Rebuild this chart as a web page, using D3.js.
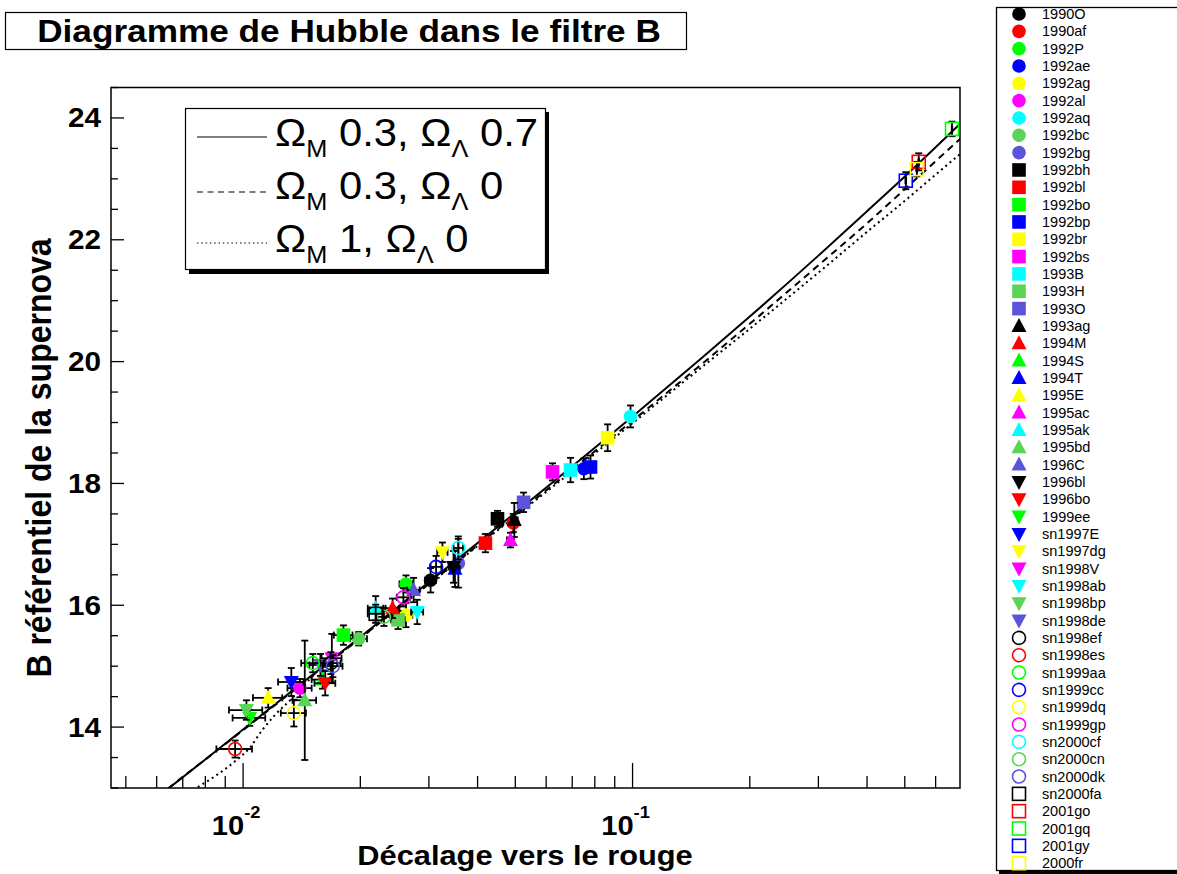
<!DOCTYPE html>
<html><head><meta charset="utf-8">
<script src="https://cdn.jsdelivr.net/npm/d3@7"></script>
<style>
body{margin:0;background:#fff}
svg{display:block}
text{font-family:"Liberation Sans",Arial,Helvetica,sans-serif}
</style>
</head><body>
<svg id="c" width="1177" height="874"></svg>
<script>
// ---------------- DATA ----------------
const names = ["1990O","1990af","1992P","1992ae","1992ag","1992al","1992aq","1992bc","1992bg",
  "1992bh","1992bl","1992bo","1992bp","1992br","1992bs","1993B","1993H","1993O",
  "1993ag","1994M","1994S","1994T","1995E","1995ac","1995ak","1995bd","1996C",
  "1996bl","1996bo","1999ee","sn1997E","sn1997dg","sn1998V","sn1998ab","sn1998bp","sn1998de",
  "sn1998ef","sn1998es","sn1999aa","sn1999cc","sn1999dq","sn1999gp","sn2000cf","sn2000cn","sn2000dk",
  "sn2000fa","2001go","2001gq","2001gy","2000fr"];
const redshift = [0.0303,0.0494,0.0262,0.0750,0.0262,0.0140,0.0988,0.0198,0.0357,
  0.0450,0.0419,0.0181,0.0780,0.0863,0.0623,0.0693,0.0250,0.0525,
  0.0497,0.0242,0.0160,0.0350,0.0116,0.0486,0.0219,0.0144,0.0274,
  0.0347,0.01625,0.0104,0.0133,0.0325,0.0169,0.0280,0.0102,0.0158,
  0.0168,0.00954,0.0151,0.0313,0.0135,0.0258,0.0357,0.0230,0.0170,
  0.0219,0.543,0.661,0.503,0.537];
const magB = [16.41,17.35,16.35,18.24,15.84,14.64,19.10,15.45,16.69,
  17.42,17.02,15.51,18.27,18.75,18.19,18.22,15.76,17.69,
  17.40,15.95,14.78,16.60,14.48,17.07,15.95,14.44,16.25,
  16.63,14.72,14.15,14.74,16.87,15.13,15.89,14.28,15.02,
  15.05,13.64,15.05,16.63,14.23,16.13,16.94,15.81,15.00,
  15.86,23.28,23.82,22.97,23.16];
const errB = [0.20,0.15,0.14,0.17,0.20,0.15,0.18,0.11,0.40,
  0.13,0.15,0.16,0.19,0.22,0.14,0.20,0.15,0.16,
  0.28,0.16,0.15,0.30,0.16,0.12,0.20,0.98,0.20,
  0.26,0.20,0.13,0.23,0.16,0.40,0.20,0.16,0.18,
  0.18,0.14,0.15,0.18,0.22,0.15,0.19,0.15,0.18,
  0.15,0.14,0.12,0.14,0.12];
const errZ = [0.001]; // same redshift uncertainty for all supernovae

// model curves (Hubble diagram predictions)
const modelZ   = [0.0046,0.005,0.01,0.02,0.05,0.1,0.15,0.2,0.3,0.4,0.5,0.6,0.7];
const modelL07 = [12.26,12.44,13.96,15.48,17.52,19.10,20.05,20.74,21.74,22.47,23.04,23.52,23.93];
const modelL0  = [12.25,12.44,13.95,15.46,17.48,19.03,19.95,20.62,21.58,22.27,22.83,23.29,23.68];
const dottedZ  = [0.00744,0.0085,0.0095,0.0104,0.0112,0.012,0.0135,0.015,0.02,0.05,0.1,0.15,0.2,0.3,0.4,0.5,0.6,0.7];
const modelM1  = [12.97,13.20,13.43,13.66,13.95,14.18,14.50,14.82,15.46,17.46,18.99,19.90,20.54,21.46,22.13,22.64,23.07,23.43];

const xTickValues = [0.01, 0.1];
const xTickExponents = ["-2", "-1"];
const yTickValues = [14,16,18,20,22,24];
const yTickLabels = ["14","16","18","20","22","24"];

const palette = ["#000000","#ff0000","#00ff00","#0000ff","#ffff00","#ff00ff","#00ffff","#59d454","#5954d9"];
const shapes = ["circle","square","up","down","ocircle","osquare"];

// ---------------- DRAW ----------------
const svg = d3.select("#c");
const L = 111, R = 960, T = 87.5, B = 788;
const x = d3.scaleLog().domain([0.00458, 0.693]).range([L, R]);
const y = d3.scaleLinear().domain([13, 24.5]).range([B, T]);
const SX = 1.1; // horizontal stretch of the original canvas text

svg.append("defs").append("clipPath").attr("id","clip")
  .append("rect").attr("x",L).attr("y",T).attr("width",R-L).attr("height",B-T);

function stext(parent, tx, ty, str, size, opts={}) {
  const g = parent.append("g").attr("transform",`translate(${tx},${ty}) scale(${opts.sx||SX},1)`);
  const t = g.append("text").attr("font-size",size).attr("font-weight",opts.bold?"bold":"normal")
    .attr("text-anchor",opts.anchor||"start").text(str);
  return t;
}

// title box
svg.append("rect").attr("x",5.5).attr("y",12.5).attr("width",681).attr("height",37)
  .attr("fill","#fff").attr("stroke","#000").attr("stroke-width",1.2);
stext(svg, 349, 42, "Diagramme de Hubble dans le filtre B", 32, {bold:true, anchor:"middle", sx:1.1});

// frame
svg.append("rect").attr("x",L).attr("y",T).attr("width",R-L).attr("height",B-T)
  .attr("fill","none").attr("stroke","#000").attr("stroke-width",1.5);

// x ticks
const xt = x.ticks();
const gx = svg.append("g").attr("stroke","#000").attr("stroke-width",1.3);
xt.forEach(v => {
  const major = xTickValues.some(m => Math.abs(m - v) < 1e-9);
  const px = x(v);
  if (px < L+1 || px > R-1) return;
  gx.append("line").attr("x1",px).attr("x2",px).attr("y1",B).attr("y2",B-(major?25:12));
});
xTickValues.forEach((v,i) => {
  const px = x(v);
  const g = svg.append("g").attr("transform",`translate(${px-7},835) scale(1.08,1)`);
  const t = g.append("text").attr("font-weight","bold").attr("text-anchor","middle");
  t.append("tspan").attr("font-size",27).text("10");
  t.append("tspan").attr("font-size",17).attr("dy",-17).text(xTickExponents[i]);
});

// y ticks
const gy = svg.append("g").attr("stroke","#000").attr("stroke-width",1.3);
d3.range(13, 24.51, 0.5).forEach(v => {
  const major = yTickValues.includes(v);
  gy.append("line").attr("x1",L).attr("x2",L+(major?13:7)).attr("y1",y(v)).attr("y2",y(v));
});
yTickValues.forEach((v,i) => {
  stext(svg, 101, y(v)+9.5, yTickLabels[i], 27, {bold:true, anchor:"end"});
});

// axis titles
stext(svg, 525, 865, "Décalage vers le rouge", 28, {bold:true, anchor:"middle"});
{
  const g = svg.append("g").attr("transform",`translate(51,458) scale(1.08,1) rotate(-90)`);
  g.append("text").attr("font-size",32).attr("font-weight","bold").attr("text-anchor","middle")
    .text("B référentiel de la supernova");
}

// model curves
const curves = svg.append("g").attr("clip-path","url(#clip)").attr("fill","none").attr("stroke","#000");
const line = d3.line().x(d=>x(d[0])).y(d=>y(d[1])).curve(d3.curveMonotoneX);
curves.append("path").attr("d", line(modelZ.map((z,i)=>[z,modelL07[i]]))).attr("stroke-width",2);
curves.append("path").attr("d", line(modelZ.map((z,i)=>[z,modelL0[i]]))).attr("stroke-width",2).attr("stroke-dasharray","7,5");
curves.append("path").attr("d", line(dottedZ.map((z,i)=>[z,modelM1[i]]))).attr("stroke-width",2).attr("stroke-dasharray","2,3.5");

// markers
function marker(g, shape, color, cx, cy) {
  switch(shape) {
    case "circle": g.append("circle").attr("cx",cx).attr("cy",cy).attr("r",6.8).attr("fill",color); break;
    case "square": g.append("rect").attr("x",cx-6.8).attr("y",cy-6.8).attr("width",13.6).attr("height",13.6).attr("fill",color); break;
    case "up": g.append("path").attr("d",`M${cx},${cy-8}L${cx+7.5},${cy+6}L${cx-7.5},${cy+6}Z`).attr("fill",color); break;
    case "down": g.append("path").attr("d",`M${cx},${cy+8}L${cx+7.5},${cy-6}L${cx-7.5},${cy-6}Z`).attr("fill",color); break;
    case "ocircle": g.append("circle").attr("cx",cx).attr("cy",cy).attr("r",6.5).attr("fill","none").attr("stroke",color).attr("stroke-width",1.6); break;
    case "osquare": g.append("rect").attr("x",cx-6.5).attr("y",cy-6.5).attr("width",13).attr("height",13).attr("fill","none").attr("stroke",color).attr("stroke-width",1.6); break;
  }
}

const pts = svg.append("g");
names.forEach((n,i) => {
  const z = redshift[i], m = magB[i], e = errB[i], ez = errZ[0];
  const color = palette[i%9], shape = shapes[Math.floor(i/9)];
  const g = pts.append("g");
  const px = x(z), py = y(m);
  const x1 = x(z-ez), x2 = x(z+ez), y1 = y(m-e), y2 = y(m+e);
  const eb = g.append("g").attr("stroke","#000").attr("stroke-width",1.8);
  eb.append("line").attr("x1",x1).attr("x2",x2).attr("y1",py).attr("y2",py);
  eb.append("line").attr("x1",x1).attr("x2",x1).attr("y1",py-3.5).attr("y2",py+3.5);
  eb.append("line").attr("x1",x2).attr("x2",x2).attr("y1",py-3.5).attr("y2",py+3.5);
  eb.append("line").attr("x1",px).attr("x2",px).attr("y1",y1).attr("y2",y2);
  eb.append("line").attr("x1",px-3.5).attr("x2",px+3.5).attr("y1",y1).attr("y2",y1);
  eb.append("line").attr("x1",px-3.5).attr("x2",px+3.5).attr("y1",y2).attr("y2",y2);
  marker(g, shape, color, px, py);
});

// models legend
svg.append("rect").attr("x",189).attr("y",112).attr("width",360).attr("height",162).attr("fill","#000");
svg.append("rect").attr("x",185.5).attr("y",108.5).attr("width",360).attr("height",161)
  .attr("fill","#fff").attr("stroke","#000").attr("stroke-width",1.2);
const legRows = [
  {y:137, base:146, dash:null, parts:["0.3,","0.7"]},
  {y:192, base:199, dash:"6,4.5", parts:["0.3,","0"]},
  {y:243, base:252, dash:"1.5,2.8", parts:["1,","0"]}
];
legRows.forEach(r => {
  svg.append("line").attr("x1",197).attr("x2",267).attr("y1",r.y).attr("y2",r.y)
    .attr("stroke","#000").attr("stroke-width",1.2).attr("stroke-dasharray",r.dash);
  const g = svg.append("g").attr("transform",`translate(275,${r.base}) scale(1.1,1)`);
  const t = g.append("text").attr("font-size",38);
  t.append("tspan").text("Ω");
  t.append("tspan").attr("font-size",23).attr("dy",11).text("M");
  t.append("tspan").attr("dy",-11).text(" " + r.parts[0] + " Ω");
  t.append("tspan").attr("font-size",23).attr("dy",11).text("Λ");
  t.append("tspan").attr("dy",-11).text(" " + r.parts[1]);
});

// supernova legend
svg.append("rect").attr("x",999).attr("y",10).attr("width",200).attr("height",864).attr("fill","#000");
svg.append("rect").attr("x",996.5).attr("y",7.5).attr("width",200).attr("height",863)
  .attr("fill","#fff").attr("stroke","#000").attr("stroke-width",1.3);
names.forEach((n,i) => {
  const cy = 14 + i*17.33;
  marker(svg, shapes[Math.floor(i/9)], palette[i%9], 1019, cy);
  svg.append("text").attr("x",1042).attr("y",cy+5).attr("font-size",14.5).text(n);
});
</script>
</body></html>
